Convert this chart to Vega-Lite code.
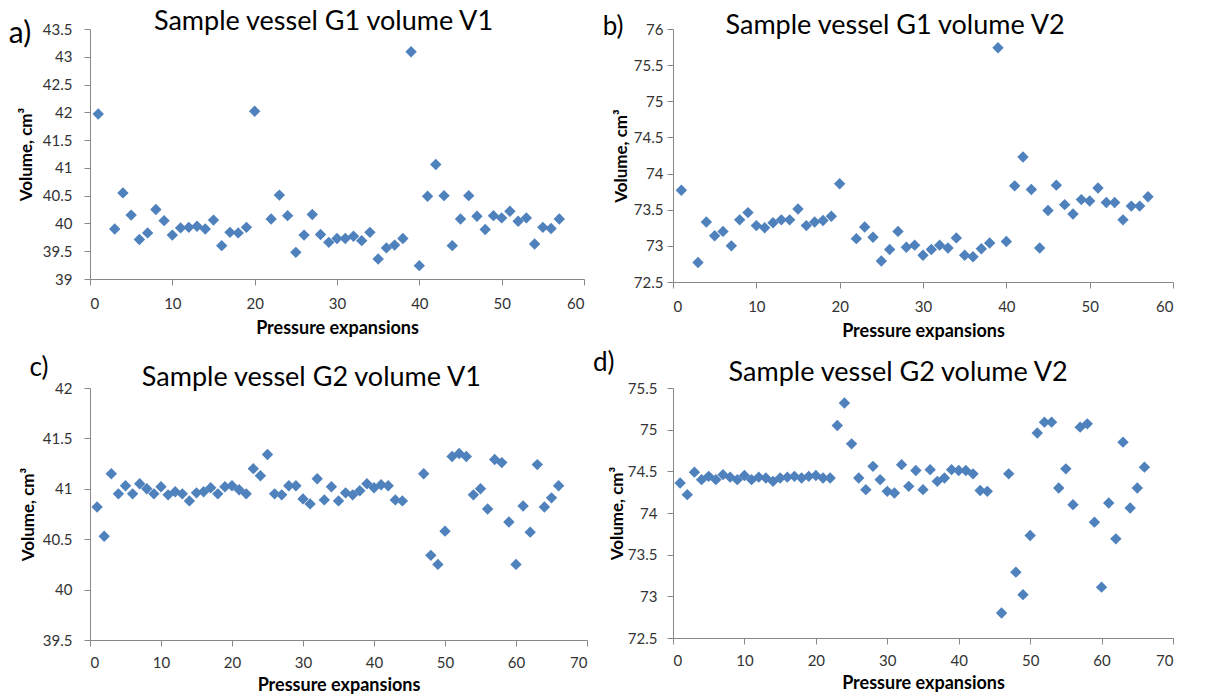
{
  "$schema": "https://vega.github.io/schema/vega-lite/v6.json",
  "background": "white",
  "padding": {"left": 8, "top": 8, "right": 5, "bottom": 0},
  "columns": 2,
  "spacing": {"row": 9, "column": 4},
  "config": {
    "view": {"stroke": null},
    "font": "Lato",
    "axis": {
      "grid": false,
      "domainColor": "#888888",
      "tickColor": "#888888",
      "tickSize": 6,
      "labelOverlap": false,
      "labelFont": "Lato",
      "labelFontSize": 15,
      "labelColor": "#333333",
      "titleFont": "Lato",
      "titleFontSize": 17,
      "titleFontWeight": "bold",
      "titleColor": "#000000"
    },
    "axisX": {"labelPadding": 11, "titlePadding": 8, "titleFontSize": 18},
    "point": {"shape": "diamond", "filled": true, "color": "#4F81BD", "size": 130, "opacity": 1},
    "text": {"color": "#000000", "align": "center", "baseline": "alphabetic", "font": "Lato"}
  },
  "datasets": {
    "a": [
      {"n":1,"v":41.97},{"n":3,"v":39.9},{"n":4,"v":40.55},{"n":5,"v":40.15},{"n":6,"v":39.71},{"n":7,"v":39.83},{"n":8,"v":40.25},{"n":9,"v":40.05},{"n":10,"v":39.79},{"n":11,"v":39.92},{"n":12,"v":39.93},{"n":13,"v":39.95},{"n":14,"v":39.9},{"n":15,"v":40.06},{"n":16,"v":39.6},{"n":17,"v":39.84},{"n":18,"v":39.83},{"n":19,"v":39.93},{"n":20,"v":42.02},{"n":22,"v":40.08},{"n":23,"v":40.51},{"n":24,"v":40.14},{"n":25,"v":39.48},{"n":26,"v":39.79},{"n":27,"v":40.16},{"n":28,"v":39.8},{"n":29,"v":39.66},{"n":30,"v":39.73},{"n":31,"v":39.73},{"n":32,"v":39.77},{"n":33,"v":39.69},{"n":34,"v":39.84},{"n":35,"v":39.36},{"n":36,"v":39.56},{"n":37,"v":39.61},{"n":38,"v":39.73},{"n":39,"v":43.09},{"n":40,"v":39.24},{"n":41,"v":40.49},{"n":42,"v":41.06},{"n":43,"v":40.5},{"n":44,"v":39.6},{"n":45,"v":40.08},{"n":46,"v":40.5},{"n":47,"v":40.13},{"n":48,"v":39.89},{"n":49,"v":40.14},{"n":50,"v":40.1},{"n":51,"v":40.22},{"n":52,"v":40.04},{"n":53,"v":40.1},{"n":54,"v":39.63},{"n":55,"v":39.93},{"n":56,"v":39.91},{"n":57,"v":40.08}
    ],
    "b": [
      {"n":1,"v":73.77},{"n":3,"v":72.77},{"n":4,"v":73.33},{"n":5,"v":73.14},{"n":6,"v":73.2},{"n":7,"v":73.0},{"n":8,"v":73.36},{"n":9,"v":73.46},{"n":10,"v":73.28},{"n":11,"v":73.25},{"n":12,"v":73.32},{"n":13,"v":73.36},{"n":14,"v":73.36},{"n":15,"v":73.51},{"n":16,"v":73.28},{"n":17,"v":73.33},{"n":18,"v":73.35},{"n":19,"v":73.41},{"n":20,"v":73.86},{"n":22,"v":73.1},{"n":23,"v":73.26},{"n":24,"v":73.12},{"n":25,"v":72.79},{"n":26,"v":72.95},{"n":27,"v":73.2},{"n":28,"v":72.98},{"n":29,"v":73.01},{"n":30,"v":72.87},{"n":31,"v":72.95},{"n":32,"v":73.01},{"n":33,"v":72.97},{"n":34,"v":73.11},{"n":35,"v":72.87},{"n":36,"v":72.85},{"n":37,"v":72.96},{"n":38,"v":73.04},{"n":39,"v":75.74},{"n":40,"v":73.06},{"n":41,"v":73.83},{"n":42,"v":74.23},{"n":43,"v":73.78},{"n":44,"v":72.97},{"n":45,"v":73.49},{"n":46,"v":73.84},{"n":47,"v":73.57},{"n":48,"v":73.44},{"n":49,"v":73.64},{"n":50,"v":73.62},{"n":51,"v":73.8},{"n":52,"v":73.6},{"n":53,"v":73.6},{"n":54,"v":73.36},{"n":55,"v":73.55},{"n":56,"v":73.55},{"n":57,"v":73.68}
    ],
    "c": [
      {"n":1,"v":40.82},{"n":2,"v":40.53},{"n":3,"v":41.15},{"n":4,"v":40.95},{"n":5,"v":41.03},{"n":6,"v":40.95},{"n":7,"v":41.05},{"n":8,"v":41.0},{"n":9,"v":40.95},{"n":10,"v":41.02},{"n":11,"v":40.94},{"n":12,"v":40.97},{"n":13,"v":40.95},{"n":14,"v":40.88},{"n":15,"v":40.96},{"n":16,"v":40.97},{"n":17,"v":41.01},{"n":18,"v":40.95},{"n":19,"v":41.02},{"n":20,"v":41.03},{"n":21,"v":40.99},{"n":22,"v":40.95},{"n":23,"v":41.2},{"n":24,"v":41.13},{"n":25,"v":41.34},{"n":26,"v":40.95},{"n":27,"v":40.94},{"n":28,"v":41.03},{"n":29,"v":41.03},{"n":30,"v":40.9},{"n":31,"v":40.85},{"n":32,"v":41.1},{"n":33,"v":40.89},{"n":34,"v":41.02},{"n":35,"v":40.88},{"n":36,"v":40.96},{"n":37,"v":40.94},{"n":38,"v":40.98},{"n":39,"v":41.05},{"n":40,"v":41.01},{"n":41,"v":41.04},{"n":42,"v":41.03},{"n":43,"v":40.89},{"n":44,"v":40.88},{"n":47,"v":41.15},{"n":48,"v":40.34},{"n":49,"v":40.25},{"n":50,"v":40.58},{"n":51,"v":41.32},{"n":52,"v":41.35},{"n":53,"v":41.32},{"n":54,"v":40.94},{"n":55,"v":41.0},{"n":56,"v":40.8},{"n":57,"v":41.29},{"n":58,"v":41.26},{"n":59,"v":40.67},{"n":60,"v":40.25},{"n":61,"v":40.83},{"n":62,"v":40.57},{"n":63,"v":41.24},{"n":64,"v":40.82},{"n":65,"v":40.91},{"n":66,"v":41.03}
    ],
    "d": [
      {"n":1,"v":74.36},{"n":2,"v":74.22},{"n":3,"v":74.49},{"n":4,"v":74.4},{"n":5,"v":74.44},{"n":6,"v":74.4},{"n":7,"v":74.46},{"n":8,"v":74.43},{"n":9,"v":74.4},{"n":10,"v":74.45},{"n":11,"v":74.4},{"n":12,"v":74.43},{"n":13,"v":74.42},{"n":14,"v":74.38},{"n":15,"v":74.42},{"n":16,"v":74.43},{"n":17,"v":74.44},{"n":18,"v":74.42},{"n":19,"v":74.44},{"n":20,"v":74.45},{"n":21,"v":74.42},{"n":22,"v":74.42},{"n":23,"v":75.05},{"n":24,"v":75.32},{"n":25,"v":74.83},{"n":26,"v":74.42},{"n":27,"v":74.28},{"n":28,"v":74.56},{"n":29,"v":74.4},{"n":30,"v":74.26},{"n":31,"v":74.24},{"n":32,"v":74.58},{"n":33,"v":74.32},{"n":34,"v":74.51},{"n":35,"v":74.28},{"n":36,"v":74.52},{"n":37,"v":74.38},{"n":38,"v":74.42},{"n":39,"v":74.52},{"n":40,"v":74.51},{"n":41,"v":74.51},{"n":42,"v":74.47},{"n":43,"v":74.27},{"n":44,"v":74.26},{"n":46,"v":72.8},{"n":47,"v":74.47},{"n":48,"v":73.29},{"n":49,"v":73.02},{"n":50,"v":73.73},{"n":51,"v":74.96},{"n":52,"v":75.09},{"n":53,"v":75.09},{"n":54,"v":74.3},{"n":55,"v":74.53},{"n":56,"v":74.1},{"n":57,"v":75.03},{"n":58,"v":75.07},{"n":59,"v":73.89},{"n":60,"v":73.11},{"n":61,"v":74.12},{"n":62,"v":73.69},{"n":63,"v":74.85},{"n":64,"v":74.06},{"n":65,"v":74.3},{"n":66,"v":74.55}
    ]
  },
  "concat": [
    {
      "width": 494, "height": 250,
      "layer": [
        {
          "data": {"name": "a"},
          "mark": {"type": "point"},
          "encoding": {
            "x": {"field": "n", "type": "quantitative", "scale": {"domain": [0, 60], "nice": false, "zero": false}, "axis": {"title": "Pressure expansions", "values": [0, 10, 20, 30, 40, 50, 60]}},
            "y": {"field": "v", "type": "quantitative", "scale": {"domain": [39, 43.5], "nice": false, "zero": false}, "axis": {"title": "Volume, cm³", "values": [39, 39.5, 40, 40.5, 41, 41.5, 42, 42.5, 43, 43.5], "tickCount": 20, "format": ".1~f", "labelPadding": 12, "titlePadding": 7}}
          }
        },
        {
          "data": {"values": [{"label": "a)"}]},
          "mark": {"type": "text", "fontSize": 30},
          "encoding": {
            "x": {"datum": -8.5, "type": "quantitative"},
            "y": {"datum": 43.24, "type": "quantitative"},
            "text": {"field": "label"}
          }
        },
        {
          "data": {"values": [{"label": "Sample vessel G1 volume V1"}]},
          "mark": {"type": "text", "fontSize": 27},
          "encoding": {
            "x": {"datum": 28.36, "type": "quantitative"},
            "y": {"datum": 43.477, "type": "quantitative"},
            "text": {"field": "label"}
          }
        }
      ]
    },
    {
      "width": 500, "height": 253,
      "layer": [
        {
          "data": {"name": "b"},
          "mark": {"type": "point"},
          "encoding": {
            "x": {"field": "n", "type": "quantitative", "scale": {"domain": [0, 60], "nice": false, "zero": false}, "axis": {"title": "Pressure expansions", "values": [0, 10, 20, 30, 40, 50, 60]}},
            "y": {"field": "v", "type": "quantitative", "scale": {"domain": [72.5, 76], "nice": false, "zero": false}, "axis": {"title": "Volume, cm³", "values": [72.5, 73, 73.5, 74, 74.5, 75, 75.5, 76], "tickCount": 20, "format": ".1~f", "labelPadding": 4, "titlePadding": 3}}
          }
        },
        {
          "data": {"values": [{"label": "b)"}]},
          "mark": {"type": "text", "fontSize": 26},
          "encoding": {
            "x": {"datum": -7.2, "type": "quantitative"},
            "y": {"datum": 75.92, "type": "quantitative"},
            "text": {"field": "label"}
          }
        },
        {
          "data": {"values": [{"label": "Sample vessel G1 volume V2"}]},
          "mark": {"type": "text", "fontSize": 27},
          "encoding": {
            "x": {"datum": 26.65, "type": "quantitative"},
            "y": {"datum": 75.935, "type": "quantitative"},
            "text": {"field": "label"}
          }
        }
      ]
    },
    {
      "width": 497, "height": 252,
      "layer": [
        {
          "data": {"name": "c"},
          "mark": {"type": "point"},
          "encoding": {
            "x": {"field": "n", "type": "quantitative", "scale": {"domain": [0, 70], "nice": false, "zero": false}, "axis": {"title": "Pressure expansions", "values": [0, 10, 20, 30, 40, 50, 60, 70], "labelPadding": 9, "titlePadding": 6}},
            "y": {"field": "v", "type": "quantitative", "scale": {"domain": [39.5, 42], "nice": false, "zero": false}, "axis": {"title": "Volume, cm³", "values": [39.5, 40, 40.5, 41, 41.5, 42], "tickCount": 20, "format": ".1~f", "labelPadding": 12, "titlePadding": 5}}
          }
        },
        {
          "data": {"values": [{"label": "c)"}]},
          "mark": {"type": "text", "fontSize": 26},
          "encoding": {
            "x": {"datum": -7.2, "type": "quantitative"},
            "y": {"datum": 42.116, "type": "quantitative"},
            "text": {"field": "label"}
          }
        },
        {
          "data": {"values": [{"label": "Sample vessel G2 volume V1"}]},
          "mark": {"type": "text", "fontSize": 27},
          "encoding": {
            "x": {"datum": 31.18, "type": "quantitative"},
            "y": {"datum": 42.019, "type": "quantitative"},
            "text": {"field": "label"}
          }
        }
      ]
    },
    {
      "width": 500, "height": 250,
      "layer": [
        {
          "data": {"name": "d"},
          "mark": {"type": "point"},
          "encoding": {
            "x": {"field": "n", "type": "quantitative", "scale": {"domain": [0, 70], "nice": false, "zero": false}, "axis": {"title": "Pressure expansions", "values": [0, 10, 20, 30, 40, 50, 60, 70], "labelPadding": 9, "titlePadding": 6}},
            "y": {"field": "v", "type": "quantitative", "scale": {"domain": [72.5, 75.5], "nice": false, "zero": false}, "axis": {"title": "Volume, cm³", "values": [72.5, 73, 73.5, 74, 74.5, 75, 75.5], "tickCount": 20, "format": ".1~f", "labelPadding": 10, "titlePadding": 1}}
          }
        },
        {
          "data": {"values": [{"label": "d)"}]},
          "mark": {"type": "text", "fontSize": 26},
          "encoding": {
            "x": {"datum": -9.7, "type": "quantitative"},
            "y": {"datum": 75.71, "type": "quantitative"},
            "text": {"field": "label"}
          }
        },
        {
          "data": {"values": [{"label": "Sample vessel G2 volume V2"}]},
          "mark": {"type": "text", "fontSize": 27},
          "encoding": {
            "x": {"datum": 31.52, "type": "quantitative"},
            "y": {"datum": 75.581, "type": "quantitative"},
            "text": {"field": "label"}
          }
        }
      ]
    }
  ]
}
